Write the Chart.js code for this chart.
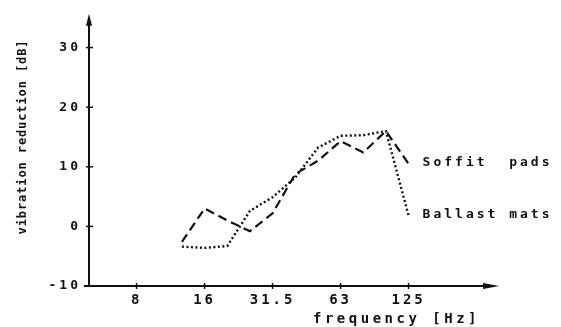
<!DOCTYPE html>
<html><head><meta charset="utf-8">
<script src="https://cdn.jsdelivr.net/npm/chart.js@4/dist/chart.umd.min.js"></script>
<style>html,body{margin:0;padding:0;background:#fff}#wrap{width:561px;height:327px}</style>
</head><body><div id="wrap"><canvas id="c" width="561" height="327"></canvas></div>
<script>
// third-octave band centre frequencies (Hz)
const freqs = [12.5, 16, 20, 25, 31.5, 40, 50, 63, 80, 100, 125];
// vibration reduction [dB]
const soffitPads = [-2.6, 3.0, 1.0, -0.8, 2.2, 8.8, 11.0, 14.3, 12.4, 16.0, 10.5];
const ballastMats = [-3.4, -3.6, -3.3, 2.6, 4.9, 8.2, 13.2, 15.2, 15.3, 16.0, 1.8];
const xTickLabels = ['8', '16', '31.5', '63', '125'];
const yTickValues = [-10, 0, 10, 20, 30];
const seriesNames = ['Soffit  pads', 'Ballast mats'];

// x position in octaves above 8 Hz (nominal third-octave steps, 12.5 Hz = 2/3)
const xPos = freqs.map((f, i) => 2 / 3 + i / 3);
const toPts = vals => vals.map((v, i) => ({x: xPos[i], y: v}));

const FONT = '"DejaVu Sans Mono", monospace';
const INK = '#111';

const axesPlugin = {
  id: 'axes',
  beforeDraw(chart) { chart.ctx.letterSpacing = '3px'; },
  afterDraw(chart) {
    const ctx = chart.ctx, xs = chart.scales.x, ys = chart.scales.y;
    const a = chart.chartArea;
    const x0 = xs.getPixelForValue(xs.min), y0 = ys.getPixelForValue(ys.min);
    ctx.save();
    ctx.letterSpacing = '0px';
    ctx.strokeStyle = INK; ctx.fillStyle = INK; ctx.lineWidth = 2;
    // y axis
    ctx.beginPath(); ctx.moveTo(x0, y0); ctx.lineTo(x0, a.top + 2); ctx.stroke();
    ctx.beginPath(); ctx.moveTo(x0, a.top - 2); ctx.lineTo(x0 - 3, a.top + 10); ctx.lineTo(x0 + 3, a.top + 10); ctx.closePath(); ctx.fill();
    // x axis
    ctx.beginPath(); ctx.moveTo(x0 - 5, y0); ctx.lineTo(a.right - 4, y0); ctx.stroke();
    ctx.beginPath(); ctx.moveTo(a.right + 2, y0); ctx.lineTo(a.right - 14, y0 - 3); ctx.lineTo(a.right - 14, y0 + 3); ctx.closePath(); ctx.fill();
    ctx.lineWidth = 1.5;
    // y ticks
    yTickValues.forEach(v => { if (v === ys.min) return; const y = ys.getPixelForValue(v);
      ctx.beginPath(); ctx.moveTo(x0 - 3, y); ctx.lineTo(x0 + 4, y); ctx.stroke(); });
    // x ticks
    xTickLabels.forEach((l, i) => { const x = xs.getPixelForValue(i);
      ctx.beginPath(); ctx.moveTo(x, y0 - 3); ctx.lineTo(x, y0 + 3); ctx.stroke(); });
    // series labels at line ends
    ctx.font = 'bold 13px ' + FONT; ctx.letterSpacing = '3px';
    ctx.textBaseline = 'middle'; ctx.textAlign = 'left';
    [soffitPads, ballastMats].forEach((vals, k) => {
      const n = vals.length - 1;
      const px = xs.getPixelForValue(xPos[n]) + 14, py = ys.getPixelForValue(vals[n]) - 1;
      ctx.fillText(seriesNames[k], px, py);
    });
    // axis titles
    ctx.font = 'bold 14px ' + FONT; ctx.letterSpacing = '3.5px';
    ctx.textAlign = 'left'; ctx.textBaseline = 'alphabetic';
    ctx.fillText('frequency [Hz]', 313, 323);
    ctx.save();
    ctx.translate(26, 137); ctx.rotate(-Math.PI / 2);
    ctx.font = 'bold 12px ' + FONT; ctx.letterSpacing = '0.9px';
    ctx.textAlign = 'center';
    ctx.fillText('vibration reduction [dB]', 0, 0);
    ctx.restore();
    ctx.restore();
  }
};

new Chart(document.getElementById('c'), {
  type: 'line',
  data: {
    datasets: [
      {label: seriesNames[0], data: toPts(soffitPads), borderColor: INK, borderWidth: 2.2,
       borderDash: [9, 5], pointRadius: 0, tension: 0, fill: false},
      {label: seriesNames[1], data: toPts(ballastMats), borderColor: INK, borderWidth: 2.4,
       borderDash: [2, 2.5], pointRadius: 0, tension: 0, fill: false}
    ]
  },
  options: {
    responsive: false, animation: false, devicePixelRatio: 1,
    layout: {padding: {left: 0, top: 14, right: 64, bottom: 0}},
    plugins: {legend: {display: false}, tooltip: {enabled: false}},
    scales: {
      x: {type: 'linear', min: -0.7, max: 5.3,
        grid: {display: false, drawTicks: false}, border: {display: false},
        afterBuildTicks: s => { s.ticks = xTickLabels.map((l, i) => ({value: i})); },
        afterFit: s => { s.height = 41; },
        ticks: {color: INK, font: {family: FONT, size: 14, weight: 'bold'}, padding: 6, maxRotation: 0, autoSkip: false,
          callback: (v, i) => xTickLabels[i]}
      },
      y: {type: 'linear', min: -10, max: 35.33,
        grid: {display: false, drawTicks: false}, border: {display: false},
        afterBuildTicks: s => { s.ticks = yTickValues.map(v => ({value: v})); },
        afterFit: s => { s.width = 89; },
        ticks: {color: INK, font: {family: FONT, size: 13, weight: 'bold'}, padding: 8}
      }
    }
  },
  plugins: [axesPlugin]
});
</script>
</body></html>
